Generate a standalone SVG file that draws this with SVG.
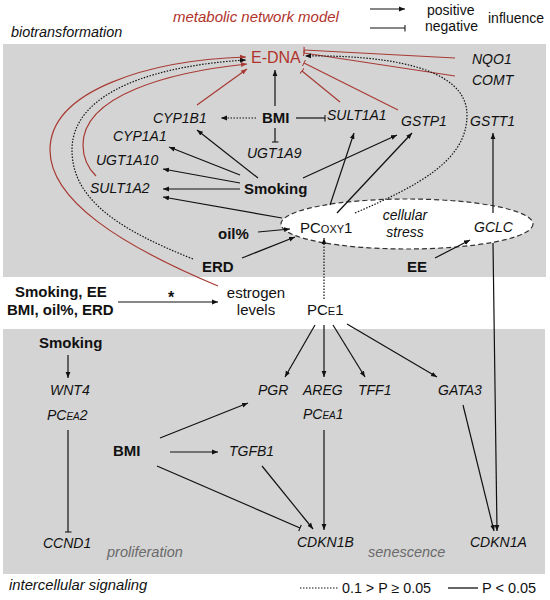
<svg xmlns="http://www.w3.org/2000/svg" width="550" height="600" viewBox="0 0 550 600">
<style>
text{font-family:"Liberation Sans",Arial,sans-serif;fill:#111}
.g{font-size:14px;font-style:italic}
.b{font-size:15px;font-weight:bold}
.r{font-size:15px}
.red{fill:#b0332b}
.gray{fill:#6a6a6a;font-size:14.5px;font-style:italic}
.k{stroke:#111;stroke-width:1.2;fill:none}
.kr{stroke:#a83a33;stroke-width:1.2;fill:none}
.dot{stroke-dasharray:1.5,1.5}
.pa{marker-end:url(#ak)}
.na{marker-end:url(#tk)}
.par{marker-end:url(#ar)}
.nar{marker-end:url(#tr)}
</style>
<defs>
<marker id="ak" viewBox="0 0 10 10" refX="10" refY="5" markerWidth="6" markerHeight="6" markerUnits="userSpaceOnUse" orient="auto"><path d="M0,1 L10,5 L0,9 z" fill="#111"/></marker>
<marker id="ar" viewBox="0 0 10 10" refX="10" refY="5" markerWidth="6" markerHeight="6" markerUnits="userSpaceOnUse" orient="auto"><path d="M0,1 L10,5 L0,9 z" fill="#a83a33"/></marker>
<marker id="tk" viewBox="0 0 4 10" refX="3" refY="5" markerWidth="4" markerHeight="7" markerUnits="userSpaceOnUse" orient="auto"><path d="M3,0 L3,10" stroke="#111" stroke-width="1.5"/></marker>
<marker id="tr" viewBox="0 0 4 10" refX="3" refY="5" markerWidth="4" markerHeight="7" markerUnits="userSpaceOnUse" orient="auto"><path d="M3,0 L3,10" stroke="#a83a33" stroke-width="1.5"/></marker>
</defs>
<rect x="0" y="0" width="550" height="600" fill="#fff"/>
<g id="panels">
<rect x="3" y="44" width="543" height="233" fill="#d4d4d4"/>
<rect x="3" y="329" width="542" height="245" fill="#d4d4d4"/>
</g>
<g id="titles">
<text x="173" y="22" class="red" style="font-size:15px;font-style:italic">metabolic network model</text>
<text x="11" y="37" style="font-size:14.4px;font-style:italic">biotransformation</text>
<text x="9" y="590" style="font-size:14.8px;font-style:italic">intercellular signaling</text>
<text x="107" y="557" class="gray">proliferation</text>
<text x="368" y="557" class="gray">senescence</text>
</g>
<g id="legend">
<line x1="370" y1="9" x2="405" y2="9" class="k pa"/>
<line x1="370" y1="28" x2="405" y2="28" class="k na"/>
<text x="427" y="15" style="font-size:14px">positive</text>
<text x="425" y="31" style="font-size:14px">negative</text>
<text x="488" y="23" style="font-size:14px">influence</text>
<line x1="300" y1="588" x2="338" y2="588" class="k dot"/>
<text x="342" y="593" style="font-size:14.3px">0.1 &gt; P ≥ 0.05</text>
<line x1="448" y1="588" x2="478" y2="588" stroke="#666" stroke-width="2"/>
<text x="482" y="593" style="font-size:14.5px">P &lt; 0.05</text>
</g>
<g id="stress">
<ellipse cx="407" cy="224" rx="126" ry="25" fill="#fff" stroke="#333" stroke-width="1.2" stroke-dasharray="5,3"/>
<text x="405" y="220" text-anchor="middle" class="g">cellular</text>
<text x="405" y="237" text-anchor="middle" class="g">stress</text>
</g>
<g id="connectors">
<line x1="197" y1="105" x2="247" y2="69" class="kr par"/>
<path d="M 96 176 C 85 165, 83 155, 83 145 C 83 95, 170 72, 247 64" class="kr par"/>
<path d="M 218 286 C 120 245, 50 200, 50 150 C 50 90, 150 60, 246 57" class="kr par"/>
<line x1="455" y1="58" x2="304" y2="50" class="kr nar"/>
<line x1="455" y1="76" x2="304" y2="53" class="kr nar"/>
<line x1="340" y1="102" x2="302" y2="71" class="kr nar"/>
<line x1="398" y1="110" x2="304" y2="63" class="kr nar"/>
<path d="M 193 259 C 120 230, 72 200, 72 150 C 72 90, 160 65, 246 60" class="k dot pa"/>
<path d="M 355 213 C 420 185, 467 160, 467 115 C 467 65, 380 55, 305 56" class="k dot pa"/>
<line x1="275" y1="106" x2="275" y2="70" class="k pa"/>
<line x1="256" y1="118" x2="221" y2="118" class="k dot pa"/>
<line x1="296" y1="118" x2="325" y2="118" class="k na"/>
<line x1="275" y1="128" x2="275" y2="142" class="k na"/>
<line x1="258" y1="178" x2="197" y2="130" class="k pa"/>
<line x1="240" y1="175" x2="169" y2="147" class="k pa"/>
<line x1="240" y1="183" x2="163" y2="169" class="k pa"/>
<line x1="240" y1="189" x2="163" y2="189" class="k pa"/>
<line x1="303" y1="178" x2="397" y2="135" class="k pa"/>
<line x1="282" y1="218" x2="163" y2="197" class="k pa"/>
<line x1="330" y1="205" x2="354" y2="133" class="k pa"/>
<line x1="337" y1="213" x2="412" y2="133" class="k pa"/>
<line x1="258" y1="232" x2="290" y2="229" class="k pa"/>
<line x1="242" y1="258" x2="295" y2="237" class="k pa"/>
<line x1="324" y1="299" x2="324" y2="238" class="k dot pa"/>
<line x1="493" y1="213" x2="493" y2="133" class="k pa"/>
<line x1="435" y1="258" x2="470" y2="240" class="k pa"/>
<line x1="493" y1="243" x2="497" y2="531" class="k pa"/>
<line x1="118" y1="302" x2="218" y2="302" class="k pa"/>
<line x1="315" y1="325" x2="285" y2="377" class="k pa"/>
<line x1="324" y1="325" x2="324" y2="377" class="k pa"/>
<line x1="333" y1="325" x2="365" y2="377" class="k pa"/>
<line x1="347" y1="324" x2="437" y2="377" class="k pa"/>
<line x1="463" y1="405" x2="494" y2="531" class="k pa"/>
<line x1="324" y1="430" x2="324" y2="530" class="k pa"/>
<line x1="68" y1="355" x2="68" y2="378" class="k pa"/>
<line x1="68" y1="430" x2="68" y2="532" class="k na"/>
<line x1="160" y1="438" x2="248" y2="403" class="k pa"/>
<line x1="170" y1="452" x2="218" y2="452" class="k pa"/>
<line x1="262" y1="466" x2="313" y2="529" class="k pa"/>
<line x1="157" y1="466" x2="300" y2="528" class="k na"/>
</g>
<g id="E-DNA"><text x="251" y="63" class="red" style="font-size:16px">E-DNA</text></g>
<g id="NQO1"><text x="472" y="64" class="g">NQO1</text></g>
<g id="COMT"><text x="472" y="85" class="g">COMT</text></g>
<g id="CYP1B1"><text x="153" y="123" class="g">CYP1B1</text></g>
<g id="BMI-top"><text x="262" y="123" class="b">BMI</text></g>
<g id="SULT1A1"><text x="327" y="120" class="g">SULT1A1</text></g>
<g id="GSTP1"><text x="401" y="126" class="g">GSTP1</text></g>
<g id="GSTT1"><text x="470" y="126" class="g">GSTT1</text></g>
<g id="CYP1A1"><text x="113" y="141" class="g">CYP1A1</text></g>
<g id="UGT1A9"><text x="247" y="158" class="g">UGT1A9</text></g>
<g id="UGT1A10"><text x="96" y="165" class="g">UGT1A10</text></g>
<g id="SULT1A2"><text x="90" y="193" class="g">SULT1A2</text></g>
<g id="Smoking-top"><text x="244" y="194" class="b">Smoking</text></g>
<g id="oil"><text x="218" y="239" class="b">oil%</text></g>
<g id="PCoxy1"><text x="300" y="233" class="r">PC<tspan style="font-size:11px">OXY</tspan>1</text></g>
<g id="GCLC"><text x="474" y="232" class="g">GCLC</text></g>
<g id="ERD"><text x="202" y="272" class="b">ERD</text></g>
<g id="EE"><text x="407" y="272" class="b">EE</text></g>
<g id="factors">
<text x="15" y="297" class="b">Smoking, EE</text>
<text x="7" y="315" class="b">BMI, oil%, ERD</text>
<text x="168" y="303" style="font-size:16px;font-weight:bold">*</text>
</g>
<g id="estrogen">
<text x="256" y="298" text-anchor="middle" class="r">estrogen</text>
<text x="256" y="315" text-anchor="middle" class="r">levels</text>
</g>
<g id="PCE1"><text x="307" y="315" class="r">PC<tspan style="font-size:11px">E</tspan>1</text></g>
<g id="Smoking-bottom"><text x="39" y="348" class="b">Smoking</text></g>
<g id="WNT4"><text x="50" y="395" class="g">WNT4</text></g>
<g id="PCEA2"><text x="47" y="420" class="g">PC<tspan style="font-size:10px">EA</tspan>2</text></g>
<g id="PGR"><text x="258" y="395" class="g">PGR</text></g>
<g id="AREG"><text x="303" y="395" class="g">AREG</text></g>
<g id="TFF1"><text x="358" y="395" class="g">TFF1</text></g>
<g id="GATA3"><text x="438" y="395" class="g">GATA3</text></g>
<g id="PCEA1"><text x="303" y="419" class="g">PC<tspan style="font-size:10px">EA</tspan>1</text></g>
<g id="BMI-bottom"><text x="113" y="456" class="b">BMI</text></g>
<g id="TGFB1"><text x="229" y="456" class="g">TGFB1</text></g>
<g id="CCND1"><text x="43" y="548" class="g">CCND1</text></g>
<g id="CDKN1B"><text x="297" y="547" class="g">CDKN1B</text></g>
<g id="CDKN1A"><text x="470" y="547" class="g">CDKN1A</text></g>
</svg>
